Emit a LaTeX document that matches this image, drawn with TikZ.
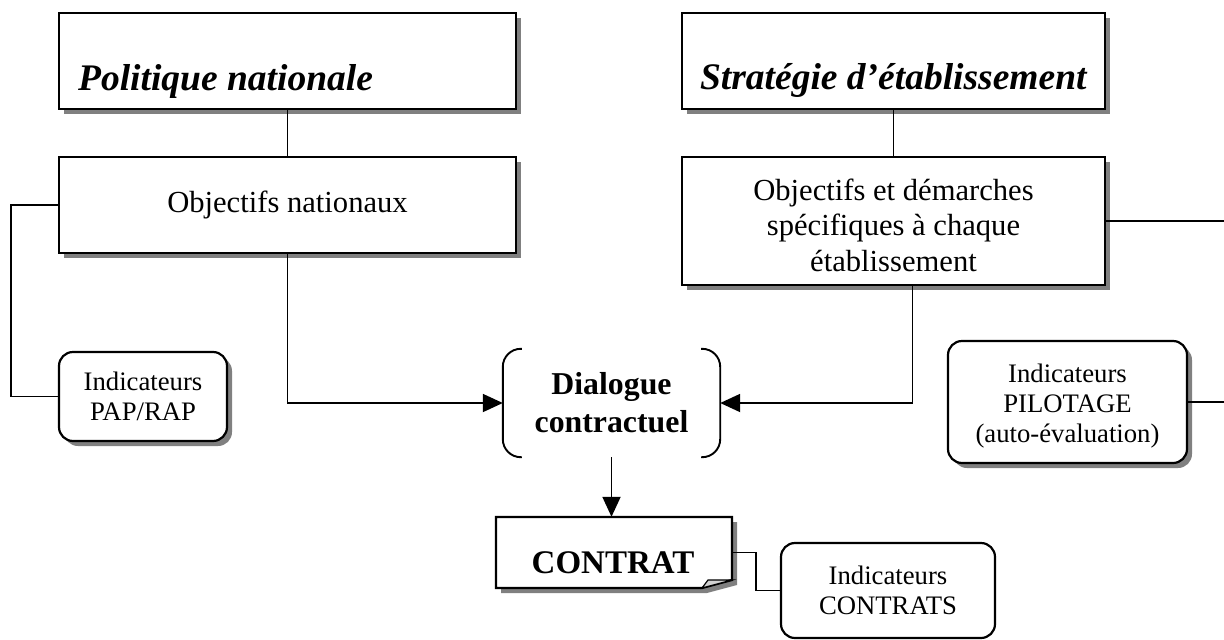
\documentclass[tikz,border=0pt]{standalone}
\usepackage{fontspec}
\setmainfont{Liberation Serif}
\usetikzlibrary{shadows,arrows.meta,calc}
\begin{document}
\begin{tikzpicture}[x=1pt,y=-1pt,
  shad/.style={drop shadow={shadow xshift=5pt,shadow yshift=-5pt,fill=gray,opacity=1}},
  box/.style={draw,line width=2.2pt,fill=white,rectangle,inner sep=0pt,shad},
  rbox/.style={box,rounded corners=14pt},
  conn/.style={line width=1.9pt},
  arr/.style={conn,-{Triangle[length=20pt,width=18pt]}},
  titlefont/.style={font=\bfseries\itshape\fontsize{37.5}{44}\selectfont},
  bigfont/.style={font=\fontsize{30.6}{35.5}\selectfont},
  smallfont/.style={font=\fontsize{26.7}{30}\selectfont}
]
\useasboundingbox (0,0) rectangle (1224,640);

% title boxes
\node[box,minimum width=457pt,minimum height=96pt] (pol) at (287.5,61) {};
\node[titlefont,anchor=base west,inner sep=0pt] (polt) at ($(pol.south west)+(20,-20)$) {Politique nationale};
\node[box,minimum width=423pt,minimum height=96pt] (str) at (893.5,61) {};
\node[titlefont,anchor=base west,inner sep=0pt] (strt) at ($(str.south west)+(19,-21)$) {Stratégie d’établissement};

% objective boxes
\node[box,bigfont,minimum width=457pt,minimum height=96pt] (objn) at (287.5,205) {Objectifs nationaux};
\node[box,bigfont,minimum width=423pt,minimum height=128pt,align=center] (objs) at (893.5,221) {};
\node[bigfont,align=center,inner sep=0pt] (objst) at (893.5,225) {Objectifs et démarches\\spécifiques à chaque\\établissement};

% indicator boxes
\node[rbox,smallfont,minimum width=168pt,minimum height=89pt,align=center] (pap) at (143,396.5) {Indicateurs\\PAP/RAP};
\node[rbox,smallfont,minimum width=239pt,minimum height=122pt,align=center] (pil) at (1067.5,402) {};
\node[smallfont,align=center,inner sep=0pt] (pilt) at (1067.5,406) {Indicateurs\\PILOTAGE\\(auto-évaluation)};
\node[draw,line width=2.2pt,fill=white,rounded corners=14pt,smallfont,minimum width=214pt,minimum height=95pt,align=center,inner sep=0pt] (ict) at (888,590.5) {Indicateurs\\CONTRATS};

% dialogue
\node[minimum width=217pt,minimum height=108pt,align=center,inner sep=0pt,font=\bfseries\fontsize{31.8}{38}\selectfont] (dlg) at (611.5,403) {Dialogue\\contractuel};
\draw[line width=1.9pt,rounded corners=18pt] ($(dlg.north west)+(19,0)$) -- (dlg.north west) -- (dlg.south west) -- ($(dlg.south west)+(19,0)$);
\draw[line width=1.9pt,rounded corners=18pt] ($(dlg.north east)+(-19,0)$) -- (dlg.north east) -- (dlg.south east) -- ($(dlg.south east)+(-19,0)$);

% contrat (folded corner)
\fill[gray] (501,522) -- (737,522) -- (737,585) -- (707,593) -- (501,593) -- cycle;
\draw[line width=2.2pt,fill=white] (496,517) -- (732,517) -- (732,580) -- (702,588) -- (496,588) -- cycle;
\draw[line width=1.2pt,fill=gray!35] (702,588) -- (708,580) -- (732,580) -- cycle;
\node[minimum width=236pt,minimum height=71pt,inner sep=0pt] (con) at (614,552.5) {};
\node[anchor=base,inner sep=0pt,font=\bfseries\fontsize{33}{38}\selectfont] (cont) at (613,573) {CONTRAT};

% connectors
\coordinate (edge1) at (1224,221);
\coordinate (edge2) at (1224,402);
\draw[conn] (pol.south) -- (objn.north);
\draw[conn] (str.south) -- (objs.north);
\draw[conn] (objn.west) -- ++(-47,0) |- (pap.west);
\draw[arr] (objn.south) |- (dlg.west);
\draw[arr] ($(objs.south)+(19,0)$) |- (dlg.east);
\draw[conn] (objs.east) -- (objs.east -| edge1);
\draw[conn] (pil.east) -- (pil.east -| edge2);
\draw[arr] (dlg.south) -- (dlg.south |- con.north);
\draw[conn] (con.east) -- ++(24,0) |- (ict.west);
\end{tikzpicture}
\end{document}
